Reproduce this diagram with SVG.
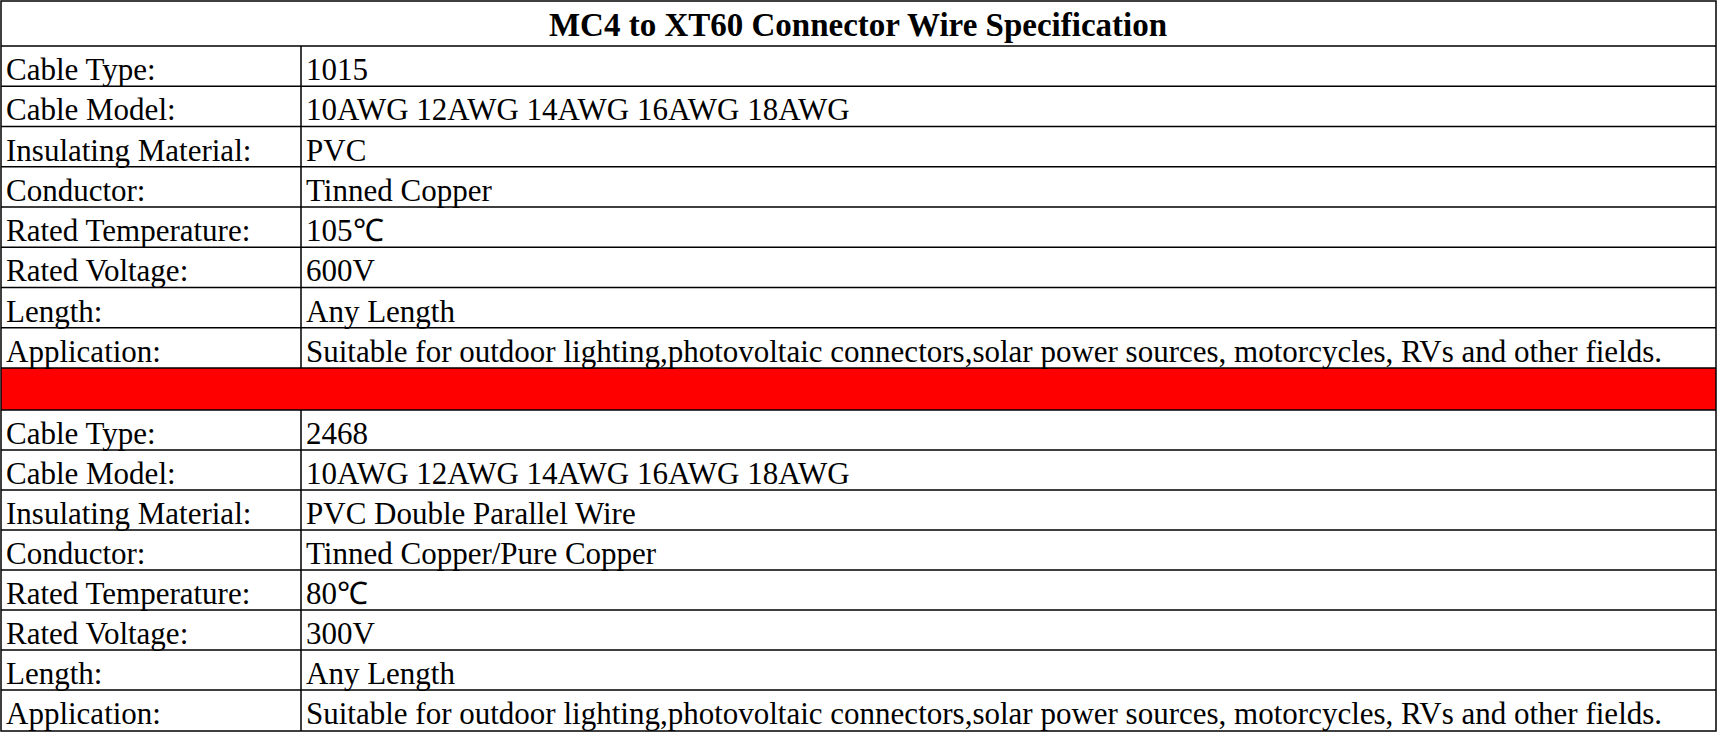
<svg xmlns="http://www.w3.org/2000/svg" width="1717" height="733" viewBox="0 0 1717 733">
<style>
.t{font-family:"Liberation Serif",serif;font-size:31px;fill:#000}
.h{font-family:"Liberation Serif",serif;font-size:33px;font-weight:bold;fill:#000}
.l{stroke:#000;stroke-width:1.5;fill:none}
</style>
<rect width="1717" height="733" fill="#fff"/>
<rect x="1" y="368" width="1715" height="42" fill="#f00"/>
<g id="grid" class="l">
<rect x="1" y="1" width="1715" height="730"/>
<path d="M1 46H1716M1 86.25H1716M1 126.5H1716M1 166.75H1716M1 207H1716M1 247.25H1716M1 287.5H1716M1 327.75H1716M1 368H1716M1 410H1716M1 450H1716M1 490H1716M1 530H1716M1 570H1716M1 610H1716M1 650H1716M1 690H1716"/>
<path d="M301 46V368M301 410V731"/>
</g>
<g id="title"><text class="h" x="858" y="36" text-anchor="middle">MC4 to XT60 Connector Wire Specification</text></g>
<g id="table1">
<text class="t" x="6" y="80">Cable Type:</text><text class="t" x="306" y="80">1015</text>
<text class="t" x="6" y="120.25">Cable Model:</text><text class="t" x="306" y="120.25">10AWG 12AWG 14AWG 16AWG 18AWG</text>
<text class="t" x="6" y="160.5">Insulating Material:</text><text class="t" x="306" y="160.5">PVC</text>
<text class="t" x="6" y="200.75">Conductor:</text><text class="t" x="306" y="200.75">Tinned Copper</text>
<text class="t" x="6" y="241">Rated Temperature:</text><text class="t" x="306" y="241">105℃</text>
<text class="t" x="6" y="281.25">Rated Voltage:</text><text class="t" x="306" y="281.25">600V</text>
<text class="t" x="6" y="321.5">Length:</text><text class="t" x="306" y="321.5">Any Length</text>
<text class="t" x="6" y="361.75">Application:</text><text class="t" x="306" y="361.75">Suitable for outdoor lighting,photovoltaic connectors,solar power sources, motorcycles, RVs and other fields.</text>
</g>
<g id="table2">
<text class="t" x="6" y="444">Cable Type:</text><text class="t" x="306" y="444">2468</text>
<text class="t" x="6" y="484">Cable Model:</text><text class="t" x="306" y="484">10AWG 12AWG 14AWG 16AWG 18AWG</text>
<text class="t" x="6" y="524">Insulating Material:</text><text class="t" x="306" y="524">PVC Double Parallel Wire</text>
<text class="t" x="6" y="564">Conductor:</text><text class="t" x="306" y="564">Tinned Copper/Pure Copper</text>
<text class="t" x="6" y="604">Rated Temperature:</text><text class="t" x="306" y="604">80℃</text>
<text class="t" x="6" y="644">Rated Voltage:</text><text class="t" x="306" y="644">300V</text>
<text class="t" x="6" y="684">Length:</text><text class="t" x="306" y="684">Any Length</text>
<text class="t" x="6" y="724">Application:</text><text class="t" x="306" y="724">Suitable for outdoor lighting,photovoltaic connectors,solar power sources, motorcycles, RVs and other fields.</text>
</g>
</svg>
